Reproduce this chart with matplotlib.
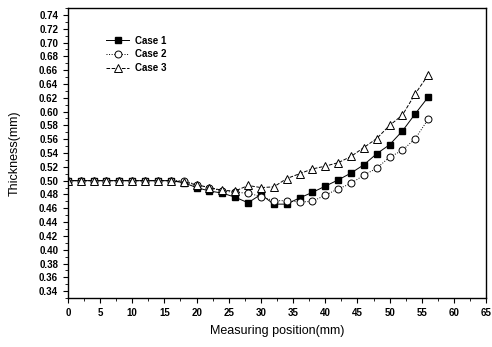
import matplotlib
matplotlib.use("Agg")
import matplotlib.pyplot as plt
from matplotlib.ticker import MultipleLocator, FormatStrFormatter
import numpy as np

# Measuring positions (mm)
position = list(range(0, 57, 2))

case1 = [0.500, 0.500, 0.500, 0.500, 0.500, 0.500, 0.500, 0.500, 0.500, 0.497,
         0.490, 0.485, 0.482, 0.476, 0.468, 0.480, 0.466, 0.466, 0.475, 0.483,
         0.492, 0.501, 0.511, 0.523, 0.539, 0.552, 0.572, 0.597, 0.621]
case2 = [0.500, 0.500, 0.500, 0.500, 0.500, 0.500, 0.500, 0.500, 0.500, 0.500,
         0.494, 0.490, 0.485, 0.483, 0.482, 0.477, 0.471, 0.471, 0.469, 0.470,
         0.479, 0.488, 0.496, 0.508, 0.518, 0.534, 0.544, 0.561, 0.589]
case3 = [0.500, 0.500, 0.500, 0.500, 0.500, 0.500, 0.500, 0.500, 0.500, 0.498,
         0.494, 0.490, 0.486, 0.485, 0.493, 0.490, 0.491, 0.503, 0.510, 0.517,
         0.521, 0.526, 0.535, 0.548, 0.561, 0.580, 0.595, 0.626, 0.653]

plt.rcParams['font.family'] = ['Liberation Sans', 'DejaVu Sans']

fig = plt.figure(figsize=(4.92, 3.47), dpi=100)
ax = fig.add_axes([0.138, 0.141, 0.850, 0.836])

ax.plot(position, case1, '-', color='black', lw=0.7, marker='s', ms=4.5,
        mfc='black', mec='black', label='Case 1')
ax.plot(position, case2, ':', color='black', lw=0.7, marker='o', ms=5,
        mfc='white', mec='black', mew=0.7, label='Case 2')
ax.plot(position, case3, '--', color='black', lw=0.7, marker='^', ms=5.5,
        mfc='white', mec='black', mew=0.7, label='Case 3')

ax.set_xlim(0, 65)
ax.set_ylim(0.33, 0.75)
ax.xaxis.set_major_locator(MultipleLocator(5))
ax.xaxis.set_minor_locator(MultipleLocator(2.5))
ax.yaxis.set_major_locator(MultipleLocator(0.02))
ax.yaxis.set_minor_locator(MultipleLocator(0.01))
ax.yaxis.set_major_formatter(FormatStrFormatter('%.2f'))

ax.tick_params(which='major', direction='out', length=3.5, width=0.8,
               labelsize=7, top=False, right=False)
ax.tick_params(which='minor', direction='out', length=2, width=0.6,
               top=False, right=False)
for lab in ax.get_xticklabels() + ax.get_yticklabels():
    lab.set_fontweight('bold')

for sp in ax.spines.values():
    sp.set_linewidth(1.0)

ax.set_xlabel('Measuring position(mm)', fontsize=9, labelpad=5)
ax.set_ylabel('Thickness(mm)', fontsize=9, labelpad=13)

leg = ax.legend(loc='upper left', bbox_to_anchor=(0.07, 0.935), frameon=False,
                handlelength=2.4, handletextpad=0.6,
                labelspacing=0.4, prop={'weight': 'bold', 'size': 7})

fig.savefig('out.png', dpi=100)
